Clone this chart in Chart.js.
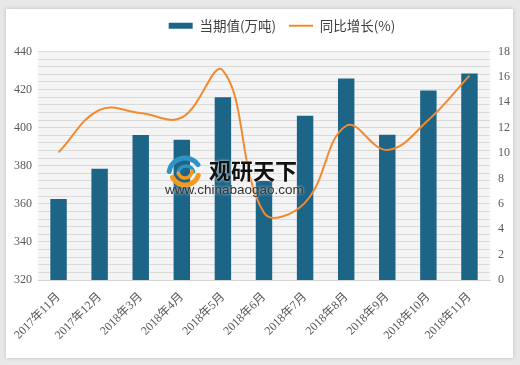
<!DOCTYPE html>
<html><head><meta charset="utf-8">
<script src="https://cdn.jsdelivr.net/npm/chart.js@4"></script>
<style>
html,body{margin:0;padding:0;}
body{width:520px;height:365px;background:#e8e8e8;position:relative;overflow:hidden;}
#frame{position:absolute;left:6px;top:9px;width:507px;height:349px;background:#fff;box-shadow:0 0 4px rgba(0,0,0,0.18);}
#wrap{position:absolute;left:0;top:0;width:520px;height:365px;}
</style></head><body>
<div id="frame"></div>
<div id="wrap"><canvas id="c" width="520" height="365"></canvas></div>
<script>
const categories = ['2017年11月','2017年12月','2018年3月','2018年4月','2018年5月','2018年6月','2018年7月','2018年8月','2018年9月','2018年10月','2018年11月'];
const volume = [362.5, 378.4, 396.2, 393.7, 416, 372, 406.3, 425.8, 396.3, 419.5, 428.4];
const growth = [10.05, 13.4, 13.15, 12.8, 16.5, 5.3, 6.1, 12.15, 10.25, 12.6, 16.1];
const leftTicks = [320, 340, 360, 380, 400, 420, 440];
const rightTicks = [0, 2, 4, 6, 8, 10, 12, 14, 16, 18];
const seriesNames = ['当期值(万吨)', '同比增长(%)'];

const tickFont = {family: '"Liberation Serif","Noto Sans CJK SC",serif', size: 12};
const tickColor = '#595959';

const plotBg = {
  id: 'plotBg',
  afterLayout(chart) {
    const lg = chart.legend;
    if (lg) { lg.left += 22; lg.right += 22; lg.top -= 9; lg.bottom -= 9; }
  },
  beforeDraw(chart) {
    const {ctx, chartArea: a} = chart;
    ctx.save();
    ctx.fillStyle = '#f4f4f4';
    ctx.fillRect(a.left, a.top, a.right - a.left, a.bottom - a.top);
    ctx.restore();
  }
};

const watermark = {
  id: 'watermark',
  afterDatasetsDraw(chart) {
    const ctx = chart.ctx;
    ctx.save();
    // logo
    const cx = 183, cy = 171;
    ctx.lineCap = 'round';
    ctx.strokeStyle = '#2f93c4';
    ctx.lineWidth = 5;
    ctx.beginPath(); ctx.arc(cx + 2, cy + 3, 16, Math.PI * 1.05, Math.PI * 1.8); ctx.stroke();
    ctx.lineWidth = 3.5;
    ctx.beginPath(); ctx.arc(cx + 3, cy + 3, 8, Math.PI * 1.0, Math.PI * 1.9); ctx.stroke();
    ctx.strokeStyle = '#f39a1e';
    ctx.lineWidth = 5;
    ctx.beginPath(); ctx.arc(cx + 2, cy, 14, Math.PI * 0.1, Math.PI * 0.85); ctx.stroke();
    ctx.lineWidth = 3.5;
    ctx.beginPath(); ctx.arc(cx + 2, cy, 7, Math.PI * 0.0, Math.PI * 0.9); ctx.stroke();
    // text
    ctx.shadowColor = 'rgba(255,255,255,0.9)';
    ctx.shadowBlur = 3;
    ctx.fillStyle = '#111';
    ctx.font = 'bold 22px "Noto Sans CJK SC", sans-serif';
    ctx.textBaseline = 'middle';
    ctx.textAlign = 'left';
    ctx.fillText('观研天下', 209, 171);
    ctx.fillStyle = '#333';
    ctx.font = '13.5px "Liberation Sans", Arial, sans-serif';
    ctx.fillText('www.chinabaogao.com', 165, 190);
    ctx.restore();
  }
};

new Chart(document.getElementById('c'), {
  data: {
    labels: categories,
    datasets: [
      {
        type: 'bar', label: seriesNames[0], data: volume, yAxisID: 'y',
        backgroundColor: '#1d6587', borderWidth: 0,
        barPercentage: 0.8, categoryPercentage: 0.5,
        pointStyle: 'rect', order: 1
      },
      {
        type: 'line', label: seriesNames[1], data: growth, yAxisID: 'y1',
        borderColor: '#f28a30', backgroundColor: '#f28a30', borderWidth: 2,
        pointRadius: 0, pointStyle: 'line', tension: 0.4, fill: false, order: 0
      }
    ]
  },
  options: {
    responsive: false, animation: false, devicePixelRatio: 1,
    layout: {padding: {top: 15, left: 0, right: 0, bottom: 0}},
    plugins: {
      legend: {
        position: 'top',
        labels: {
          usePointStyle: true, pointStyleWidth: 24, boxHeight: 6,
          font: {family: '"Noto Sans CJK SC", sans-serif', size: 13.5},
          color: '#404040', padding: 13,
          sort: (a, b) => a.datasetIndex - b.datasetIndex
        }
      },
      tooltip: {enabled: false}
    },
    scales: {
      x: {
        offset: true,
        grid: {display: false},
        border: {display: true, color: '#d4d4d4'},
        ticks: {maxRotation: 45, minRotation: 45, font: tickFont, color: tickColor, padding: 2, autoSkip: false},
        afterFit: s => { s.height = 85; }
      },
      y: {
        position: 'left', min: 320, max: 440,
        grid: {color: '#dadada', lineWidth: 1, drawTicks: false},
        border: {display: false},
        ticks: {stepSize: 4, autoSkip: false, font: tickFont, color: tickColor, padding: 6,
          callback: v => leftTicks.includes(v) ? String(v) : ''},
        afterFit: s => { s.width = 38; }
      },
      y1: {
        position: 'right', min: 0, max: 18,
        grid: {display: false, drawTicks: false},
        border: {display: false},
        ticks: {stepSize: 2, autoSkip: false, font: tickFont, color: tickColor, padding: 8,
          callback: v => rightTicks.includes(v) ? String(v) : ''},
        afterFit: s => { s.width = 30; }
      }
    }
  },
  plugins: [plotBg, watermark]
});
</script>
</body></html>
